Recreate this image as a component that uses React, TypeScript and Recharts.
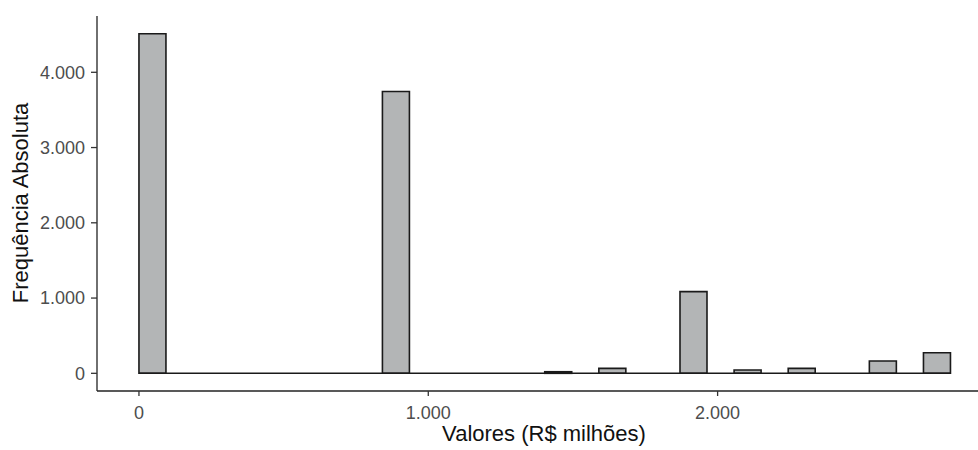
import React from 'react';
import { ComposedChart, Bar, XAxis, YAxis, ReferenceLine } from 'recharts';

// Histogram: 30 bins of equal width starting at 0 (R$ milhões)
const binWidth = 93.5;
const counts = [
  4512, 0, 0, 0, 0, 0, 0, 0, 0, 3745,
  0, 0, 0, 0, 0, 21, 0, 66, 0, 0,
  1085, 0, 44, 0, 66, 0, 0, 164, 0, 274,
];
const xTicks = [0, 1000, 2000];
const yTicks = [0, 1000, 2000, 3000, 4000];
const xTitle = 'Valores (R$ milhões)';
const yTitle = 'Frequência Absoluta';

const data = counts.map((c, i) => ({ mid: (i + 0.5) * binWidth, count: c }));
const binEnd = counts.length * binWidth;

const fmt = (v: number) => String(v).replace(/\B(?=(\d{3})+(?!\d))/g, '.');

const FONT = '"Liberation Sans", Arial, sans-serif';

export default function App() {
  return (
    <div style={{ position: 'absolute', left: 0, top: 0, width: 978, height: 450, background: '#fff' }}>
      <ComposedChart
        width={978}
        height={450}
        data={data}
        margin={{ top: 16, right: 0, bottom: 0, left: 0 }}
        barCategoryGap={0}
        barGap={0}
      >
        <XAxis
          dataKey="mid"
          type="number"
          domain={[-145, 2900]}
          allowDataOverflow
          ticks={xTicks}
          tickFormatter={fmt}
          height={59}
          tickSize={5}
          tickMargin={10}
          stroke="#222"
          strokeWidth={1.3}
          tick={{ fill: '#4d4d4d', fontSize: 18, fontFamily: FONT }}
          tickLine={{ stroke: '#333' }}
          label={(props: any) => (
            <text
              x={544}
              y={440.5}
              textAnchor="middle"
              fontSize={22}
              fontFamily={FONT}
              fill="#111"
            >
              {xTitle}
            </text>
          )}
        />
        <YAxis
          type="number"
          domain={[-235, 4748]}
          allowDataOverflow
          ticks={yTicks}
          tickFormatter={fmt}
          width={97}
          tickSize={6}
          tickMargin={6}
          stroke="#222"
          strokeWidth={1.3}
          tick={{ fill: '#4d4d4d', fontSize: 18, fontFamily: FONT }}
          tickLine={{ stroke: '#333' }}
          label={(props: any) => (
            <text
              x={27.5}
              y={203}
              transform="rotate(-90 27.5 203)"
              textAnchor="middle"
              fontSize={22}
              fontFamily={FONT}
              fill="#111"
            >
              {yTitle}
            </text>
          )}
        />
        <ReferenceLine
          segment={[{ x: 0, y: 0 }, { x: binEnd, y: 0 }]}
          stroke="#1a1a1a"
          strokeWidth={1.6}
          ifOverflow="visible"
        />
        <Bar
          dataKey="count"
          fill="#b3b5b6"
          stroke="#1a1a1a"
          strokeWidth={1.6}
          isAnimationActive={false}
        />
      </ComposedChart>
    </div>
  );
}
